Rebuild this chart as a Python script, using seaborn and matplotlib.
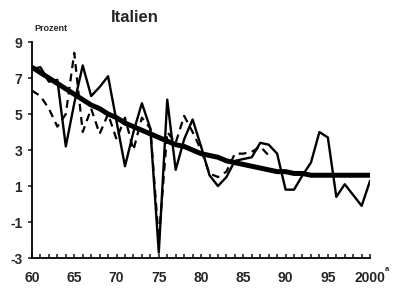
import pandas as pd
import matplotlib.pyplot as plt
import seaborn as sns
import numpy as np
from matplotlib.ticker import MultipleLocator

# Italien, Prozent, 1960-2000
years = list(range(1960, 2001))

solid = [7.5, 7.6, 6.8, 6.9, 3.2, 5.6, 7.7, 6.0, 6.5, 7.1,
         4.6, 2.1, 4.0, 5.6, 4.2, -2.7, 5.8, 1.9, 3.6, 4.7,
         3.2, 1.6, 1.0, 1.5, 2.4, 2.5, 2.6, 3.4, 3.3, 2.8,
         0.8, 0.8, 1.6, 2.3, 4.0, 3.7, 0.4, 1.1, 0.5, -0.1,
         1.3]

dashed_years = list(range(1960, 1989))
dashed = [6.3, 6.0, 5.3, 4.3, 5.0, 8.4, 4.0, 5.3, 3.9, 5.0,
          3.6, 4.8, 3.0, 4.8, 4.2, -2.0, 4.0, 3.4, 4.9, 4.0,
          3.0, 1.7, 1.5, 1.8, 2.8, 2.8, 2.9, 3.2, 2.7]

trend = [7.6, 7.3, 7.0, 6.7, 6.4, 6.1, 5.8, 5.5, 5.3, 5.0,
         4.8, 4.5, 4.3, 4.1, 3.9, 3.7, 3.5, 3.3, 3.2, 3.0,
         2.8, 2.7, 2.6, 2.4, 2.3, 2.2, 2.1, 2.0, 1.9, 1.8,
         1.8, 1.7, 1.7, 1.6, 1.6, 1.6, 1.6, 1.6, 1.6, 1.6,
         1.6]

xticks = [1960, 1965, 1970, 1975, 1980, 1985, 1990, 1995, 2000]
xticklabels = ["60", "65", "70", "75", "80", "85", "90", "95", "2000"]
yticks = [-3, -1, 1, 3, 5, 7, 9]

df = pd.DataFrame({"year": years, "solid": solid, "trend": trend})
dfd = pd.DataFrame({"year": dashed_years, "dashed": dashed})

sns.set_style("ticks")
plt.rcParams['font.family'] = ['Liberation Sans', 'DejaVu Sans']

fig = plt.figure(figsize=(3.95, 2.88), dpi=100)
ax = fig.add_axes([0.081, 0.104, 0.856, 0.75])

sns.lineplot(data=dfd, x="year", y="dashed", ax=ax, color="black",
             linewidth=1.6, linestyle=(0, (3.5, 2.5)))
sns.lineplot(data=df, x="year", y="solid", ax=ax, color="black", linewidth=1.7)
sns.lineplot(data=df, x="year", y="trend", ax=ax, color="black", linewidth=3.6)

ax.set_xlim(1960, 2000)
ax.set_ylim(-3, 9)
ax.set_xticks(xticks)
ax.set_xticklabels(xticklabels, fontsize=10, fontweight="bold")
ax.set_yticks(yticks)
ax.set_yticklabels([str(v) for v in yticks], fontsize=10, fontweight="bold")
ax.xaxis.set_minor_locator(MultipleLocator(1))
ax.tick_params(axis="x", which="both", direction="in", length=3, width=1.2, pad=9)
ax.tick_params(axis="y", direction="out", length=3, width=1.2, pad=4)
ax.set_xlabel("")
ax.set_ylabel("")
for s in ["top", "right"]:
    ax.spines[s].set_visible(False)
for s in ["left", "bottom"]:
    ax.spines[s].set_linewidth(1.3)
    ax.spines[s].set_color("black")

fig.text(0.28, 0.94, "Italien", fontsize=12, fontweight="bold", ha="left", va="center")
fig.text(0.088, 0.9, "Prozent", fontsize=6.5, fontweight="bold", ha="left", va="center")
fig.text(0.975, 0.065, "a", fontsize=5.5, fontweight="bold", ha="left", va="center")

plt.savefig("out.png", dpi=100)
